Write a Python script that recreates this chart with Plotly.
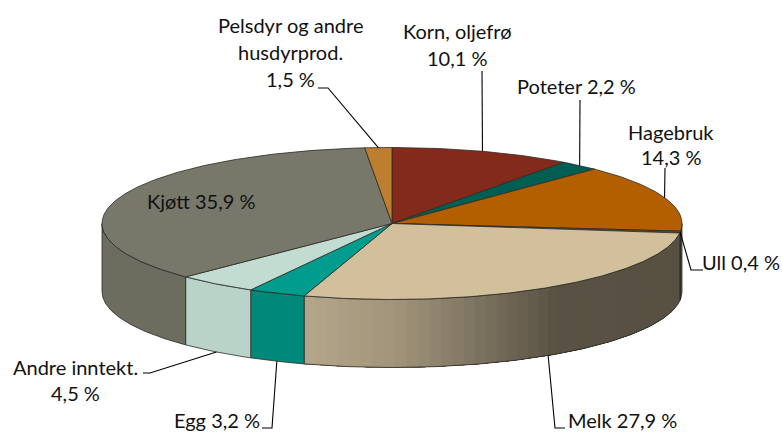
import numpy as np
import plotly.graph_objects as go

# Data, clockwise from 12 o'clock
categories = ["Korn, oljefrø", "Poteter", "Hagebruk", "Ull", "Melk", "Egg",
              "Andre inntekt.", "Kjøtt", "Pelsdyr og andre husdyrprod."]
values = [10.1, 2.2, 14.3, 0.4, 27.9, 3.2, 4.5, 35.9, 1.5]
top_colors = ["#842a1b", "#005f52", "#b35f00", "#6b4a17", "#d2bf9b",
              "#009c8d", "#c3dcd1", "#77786a", "#bd7f2f"]
side_colors = ["#5e1e13", "#00443a", "#8a4c00", "#4e3610", None,
               "#00897a", "#b9d3c8", "#6c6c5f", "#8a5c22"]

# label lines: text, centre x, centre y (pixels)
label_lines = [
    ("Pelsdyr og andre", 290, 25), ("husdyrprod.", 290, 52), ("1,5 %", 290, 79),
    ("Korn, oljefrø", 457, 31), ("10,1 %", 457, 58),
    ("Poteter 2,2 %", 576, 86),
    ("Hagebruk", 671, 132), ("14,3 %", 671, 157),
    ("Ull 0,4 %", 741, 262),
    ("Melk 27,9 %", 622, 420),
    ("Egg 3,2 %", 217, 420),
    ("Andre inntekt.", 75, 367), ("4,5 %", 75, 393),
    ("Kjøtt 35,9 %", 201, 201),
]

# leader bends for each category, None = no leader (pixels)
leader_bends = [
    [(482, 71)],
    [(580, 100)],
    [(665, 168)],
    [(691, 270), (703, 270)],
    [(555, 428), (565, 428)],
    [(272, 428), (262, 428)],
    [(150, 373), (143, 373)],
    None,
    [(328, 88), (318, 88)],
]

# Melk side shading, x pixel -> colour
melk_x = [304, 400, 480, 555, 683]
melk_r = [181, 160, 123, 90, 88]
melk_g = [167, 147, 114, 82, 80]
melk_b = [140, 121, 96, 68, 66]

# pie geometry
cx, cy = 392, 223.5
rx, ry = 290, 76
depth = 68
edge = "#2b2b26"


def pt(angle, dy=0):
    return cx + rx * np.sin(angle), cy - ry * np.cos(angle) + dy


def arc(a0, a1):
    n = max(int(abs(a1 - a0) / 0.01), 2)
    return np.linspace(a0, a1, n)


def add_poly(fig, xs, ys, fill, line_color, width):
    fig.add_trace(go.Scatter(
        x=xs, y=ys, mode="lines", fill="toself", fillcolor=fill,
        line=dict(color=line_color, width=width), hoverinfo="skip",
    ))


def wall(a0, a1):
    t = arc(a0, a1)
    x1, y1 = pt(t)
    x2, y2 = pt(t[::-1], depth)
    return list(x1) + list(x2) + [x1[0]], list(y1) + list(y2) + [y1[0]]


fig = go.Figure()

cum = np.concatenate([[0], np.cumsum(values)]) / sum(values) * 2 * np.pi

# side walls (only the front half shows)
for i, cat in enumerate(categories):
    a0, a1 = max(cum[i], np.pi / 2), min(cum[i + 1], 3 * np.pi / 2)
    if a1 <= a0:
        continue
    if side_colors[i] is None:
        # gradient wall: each band runs on to the end and the next one paints over it,
        # otherwise the seams show up as stripes
        steps = np.linspace(a0, a1, 45)
        for s0 in steps[:-1]:
            xm, _ = pt(s0 + (steps[1] - steps[0]) / 2)
            col = "rgb(%d,%d,%d)" % (np.interp(xm, melk_x, melk_r),
                                     np.interp(xm, melk_x, melk_g),
                                     np.interp(xm, melk_x, melk_b))
            xs, ys = wall(s0, a1)
            add_poly(fig, xs, ys, col, col, 0)
        xs, ys = wall(a0, a1)
        fig.add_trace(go.Scatter(x=xs, y=ys, mode="lines",
                                 line=dict(color=edge, width=0.8), hoverinfo="skip"))
    else:
        xs, ys = wall(a0, a1)
        add_poly(fig, xs, ys, side_colors[i], edge, 0.8)

# top face
for i, cat in enumerate(categories):
    t = arc(cum[i], cum[i + 1])
    xs, ys = pt(t)
    add_poly(fig, [cx] + list(xs) + [cx], [cy] + list(ys) + [cy],
             top_colors[i], edge, 0.8)

# leader lines start from the middle of each slice
for i, bends in enumerate(leader_bends):
    if bends is None:
        continue
    mid = (cum[i] + cum[i + 1]) / 2
    front = np.pi / 2 < mid < 3 * np.pi / 2
    x0, y0 = pt(mid, depth if front and categories[i] != "Ull" else 0)
    fig.add_trace(go.Scatter(
        x=[x0] + [b[0] for b in bends], y=[y0] + [b[1] for b in bends],
        mode="lines", line=dict(color="#000000", width=1.1), hoverinfo="skip",
    ))

for text, x, y in label_lines:
    fig.add_annotation(x=x, y=y, text=text, showarrow=False, xanchor="center",
                       yanchor="middle", font=dict(size=20, color="#111111"))

fig.update_layout(
    width=782, height=434,
    margin=dict(l=0, r=0, t=0, b=0),
    showlegend=False,
    paper_bgcolor="white", plot_bgcolor="white",
    font=dict(family="Lato, Carlito, sans-serif"),
    xaxis=dict(range=[0, 782], visible=False, fixedrange=True),
    yaxis=dict(range=[434, 0], visible=False, fixedrange=True),
)

# page has a default body margin that pushes the figure 8px off
fig.write_html("out.html", config=dict(displayModeBar=False),
               post_script="document.body.style.margin='0';document.documentElement.style.overflow='hidden';")
